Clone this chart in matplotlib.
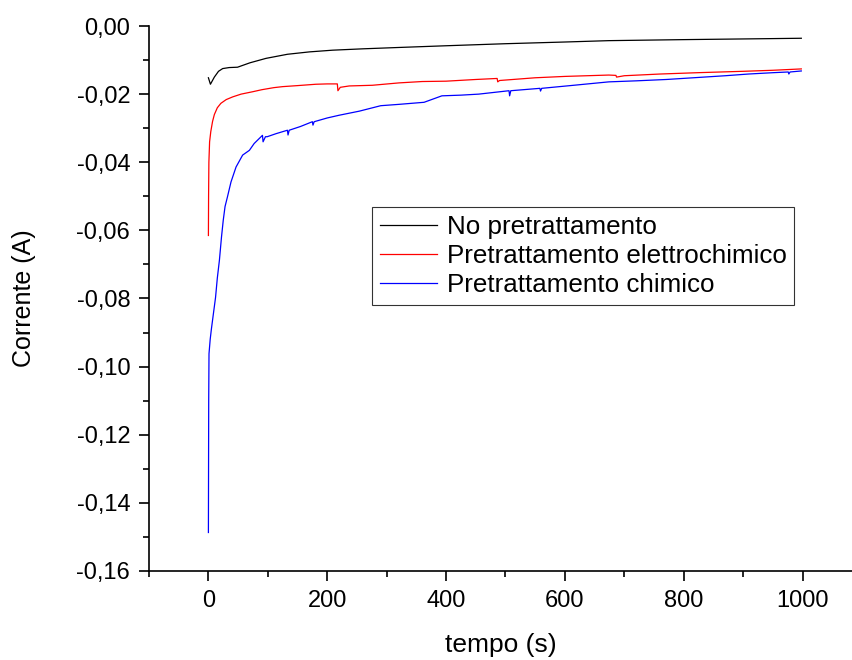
import matplotlib
matplotlib.use("Agg")
import matplotlib.pyplot as plt
from matplotlib.ticker import MultipleLocator, FuncFormatter

plt.rcParams['font.family'] = ['Liberation Sans', 'DejaVu Sans']
plt.rcParams['axes.unicode_minus'] = False

# dati: tempo (s) e corrente (A)
t_no = [0, 3.4, 10, 17, 24, 35, 49, 70, 97, 133, 170, 209, 260, 321,
        400, 500, 600, 674, 800, 900, 998]
i_no = [-0.0152, -0.0171, -0.0150, -0.0133, -0.0125, -0.0122, -0.0121,
        -0.0108, -0.0095, -0.0083, -0.0076, -0.0071, -0.0067, -0.0063,
        -0.0058, -0.0052, -0.0047, -0.0043, -0.0040, -0.0038, -0.0036]

t_el = [0, 0.3, 0.8, 2, 4, 7, 10, 15, 21, 30, 41, 55, 74.5, 90, 110, 125,
        150, 181, 200, 217, 218, 222, 237, 276, 321, 360, 400, 450, 486,
        487, 490, 550, 600, 674, 686, 687, 700, 760, 825, 900, 950, 998]
i_el = [-0.0615, -0.050, -0.040, -0.034, -0.031, -0.028, -0.026, -0.024,
        -0.0227, -0.0216, -0.0208, -0.0200, -0.0193, -0.0187, -0.0181,
        -0.0178, -0.0175, -0.0171, -0.0170, -0.0170, -0.0190, -0.0180,
        -0.0176, -0.0174, -0.0167, -0.0163, -0.0162, -0.0157, -0.0154,
        -0.0164, -0.0160, -0.0152, -0.0148, -0.0144, -0.0145, -0.0150,
        -0.0146, -0.0141, -0.0137, -0.0133, -0.0130, -0.0126]

t_ch = [0, 0.5, 1, 3, 5, 8, 12, 15, 18.5, 22, 25, 28, 32, 38, 46.5, 57.6,
        69, 77, 91, 92, 96, 99, 114, 133, 134, 136, 155, 175, 176, 178,
        200, 220, 254, 290, 321, 363, 393, 425, 455, 506, 507, 509, 558,
        559, 561, 615, 674, 720, 771, 825, 870, 909, 951, 976, 977, 979,
        998]
i_ch = [-0.1487, -0.110, -0.0962, -0.092, -0.089, -0.085, -0.0797, -0.074,
        -0.0688, -0.062, -0.057, -0.053, -0.0502, -0.0458, -0.0414,
        -0.0379, -0.0365, -0.0345, -0.0321, -0.0340, -0.0325, -0.0325,
        -0.0316, -0.0306, -0.0320, -0.0306, -0.0295, -0.0281, -0.0291,
        -0.0281, -0.0270, -0.0262, -0.0250, -0.0234, -0.0230, -0.0224,
        -0.0205, -0.0203, -0.0200, -0.0190, -0.0205, -0.0190, -0.0183,
        -0.0191, -0.0183, -0.0174, -0.0164, -0.0161, -0.0157, -0.0151,
        -0.0146, -0.0141, -0.0137, -0.0135, -0.0141, -0.0135, -0.0132]

labels = ["No pretrattamento", "Pretrattamento elettrochimico",
          "Pretrattamento chimico"]

fig = plt.figure(figsize=(8.53, 6.6), dpi=100)
ax = fig.add_axes([149 / 853, 89 / 660, 1 - 149 / 853, (571 - 26) / 660])

ax.plot(t_no, i_no, color="black", lw=0.9, label=labels[0])
ax.plot(t_el, i_el, color="red", lw=0.9, label=labels[1])
ax.plot(t_ch, i_ch, color="blue", lw=0.9, label=labels[2])

ax.set_xlim(-100, 1085)
ax.set_ylim(-0.16, 0.0)

ax.spines['top'].set_visible(False)
ax.spines['right'].set_visible(False)
for s in ['left', 'bottom']:
    ax.spines[s].set_linewidth(1.2)

ax.xaxis.set_major_locator(MultipleLocator(200))
ax.xaxis.set_minor_locator(MultipleLocator(100))
ax.yaxis.set_major_locator(MultipleLocator(0.02))
ax.yaxis.set_minor_locator(MultipleLocator(0.01))
ax.yaxis.set_major_formatter(FuncFormatter(
    lambda v, p: ("%.2f" % v).replace(".", ",").replace("-0,00", "0,00")))

ax.tick_params(which="major", direction="out", length=7.5, width=1.2,
               labelsize=17, pad=6)
ax.tick_params(which="minor", direction="out", length=4.5, width=1.2)

ax.set_xlabel("tempo (s)", fontsize=19, labelpad=15)
ax.set_ylabel("Corrente (A)", fontsize=18, labelpad=29)

leg = ax.legend(loc="upper left", bbox_to_anchor=(372 / 853, 1 - 207 / 660),
                bbox_transform=fig.transFigure, fontsize=18.7, frameon=True,
                fancybox=False, edgecolor="black", handlelength=2.2,
                handletextpad=0.38, labelspacing=0.2, borderpad=0.3,
                borderaxespad=0)
leg.get_frame().set_linewidth(0.8)

fig.savefig("out.png", dpi=100)
